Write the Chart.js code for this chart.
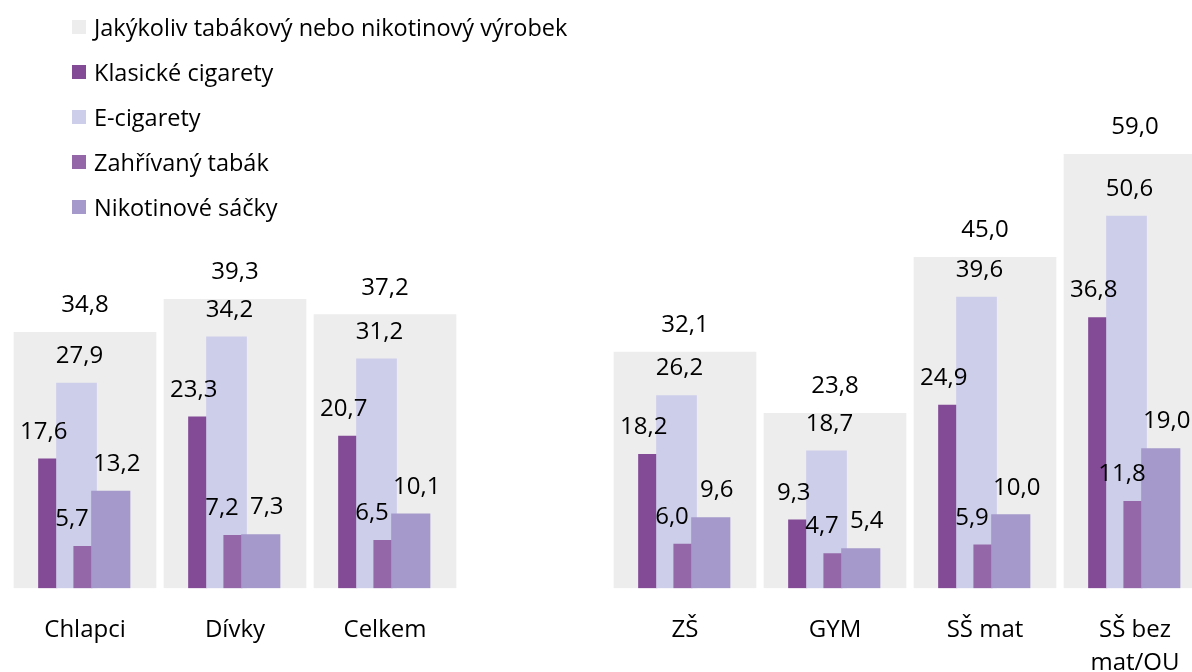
<!DOCTYPE html>
<html>
<head>
<meta charset="utf-8">
<script src="https://cdn.jsdelivr.net/npm/chart.js@4"></script>
<style>
  html, body { margin: 0; padding: 0; background: #fff; overflow: hidden; }
  #wrap { position: relative; width: 1192px; height: 672px; overflow: hidden; }
  #chart { position: absolute; left: 0; top: 0; }
  #legend { position: absolute; left: 72px; top: 4px; font-family: "Open Sans", sans-serif; font-size: 23.5px; color: #000; }
  #legend .item { display: flex; align-items: center; height: 45px; white-space: nowrap; }
  #legend .box { width: 14px; height: 14px; margin-right: 8px; }
</style>
</head>
<body>
<div id="wrap">
  <canvas id="chart" width="1220" height="710"></canvas>
  <div id="legend"></div>
</div>
<script>
var categories = ['Chlapci', 'Dívky', 'Celkem', '', 'ZŠ', 'GYM', 'SŠ mat', ['SŠ bez', 'mat/OU']];
var seriesNames = ['Jakýkoliv tabákový nebo nikotinový výrobek', 'Klasické cigarety', 'E-cigarety', 'Zahřívaný tabák', 'Nikotinové sáčky'];
var anyProduct = [34.8, 39.3, 37.2, null, 32.1, 23.8, 45.0, 59.0];
var cigarettes = [17.6, 23.3, 20.7, null, 18.2, 9.3, 24.9, 36.8];
var eCigarettes = [27.9, 34.2, 31.2, null, 26.2, 18.7, 39.6, 50.6];
var heatedTobacco = [5.7, 7.2, 6.5, null, 6.0, 4.7, 5.9, 11.8];
var nicotinePouches = [13.2, 7.3, 10.1, null, 9.6, 5.4, 10.0, 19.0];

var colors = ['#EDEDED', '#834A96', '#CDCEEA', '#9468A8', '#A599CB'];
// bar offset from category centre, bar width, label x shift (px)
var barStyle = [
  { shift: 0, width: 142, labelDx: 0 },
  { shift: -37.25, width: 18.5, labelDx: -4 },
  { shift: -8.5, width: 40, labelDx: 3 },
  { shift: -2, width: 18.5, labelDx: -11 },
  { shift: 25.75, width: 38.5, labelDx: 6 }
];
var catPx = 150;

Chart.defaults.font.family = '"Open Sans", sans-serif';
Chart.defaults.color = '#000';

function points(values) {
  return values.map(function (v, i) { return { x: i, y: v }; })
    .filter(function (p) { return p.y !== null; });
}

var allValues = [anyProduct, cigarettes, eCigarettes, heatedTobacco, nicotinePouches];
var datasets = allValues.map(function (vals, k) {
  return {
    label: seriesNames[k],
    data: points(vals),
    backgroundColor: colors[k],
    xAxisID: 'x' + k,
    yAxisID: 'y',
    grouped: false,
    barThickness: barStyle[k].width,
    order: 5 - k,
    labelDx: barStyle[k].labelDx
  };
});

var scales = {
  x: {
    type: 'category',
    labels: categories,
    offset: true,
    grid: { display: false, drawTicks: false },
    border: { display: false },
    ticks: { font: { size: 24, lineHeight: 1.35 }, color: '#000', padding: 26, maxRotation: 0, autoSkip: false }
  },
  y: { type: 'linear', display: false, min: 0, max: 80 }
};
barStyle.forEach(function (s, k) {
  var d = s.shift / catPx;
  scales['x' + k] = {
    type: 'linear', display: false, offset: false, bounds: 'data',
    grid: { offset: false },
    min: -0.5 - d, max: categories.length - 0.5 - d
  };
});

var valueLabels = {
  id: 'valueLabels',
  afterDatasetsDraw: function (chart) {
    var ctx = chart.ctx;
    ctx.save();
    ctx.font = '24px "Open Sans"';
    ctx.fillStyle = '#000';
    ctx.textAlign = 'center';
    ctx.textBaseline = 'middle';
    chart.data.datasets.forEach(function (ds, i) {
      chart.getDatasetMeta(i).data.forEach(function (bar, j) {
        var v = ds.data[j].y;
        ctx.fillText(v.toFixed(1).replace('.', ','), bar.x + ds.labelDx, bar.y - 27);
      });
    });
    ctx.restore();
  }
};

var ctx = document.getElementById('chart').getContext('2d');
var chart = new Chart(ctx, {
  type: 'bar',
  data: { labels: categories, datasets: datasets },
  options: {
    responsive: false,
    animation: false,
    layout: { padding: { left: 10, right: 10, top: 0, bottom: 5 } },
    plugins: { legend: { display: false }, tooltip: { enabled: false } },
    scales: scales
  },
  plugins: [valueLabels]
});

// legend
var legend = document.getElementById('legend');
seriesNames.forEach(function (name, k) {
  var item = document.createElement('div');
  item.className = 'item';
  var box = document.createElement('span');
  box.className = 'box';
  box.style.background = colors[k];
  var txt = document.createElement('span');
  txt.textContent = name;
  item.appendChild(box);
  item.appendChild(txt);
  legend.appendChild(item);
});
</script>
</body>
</html>
